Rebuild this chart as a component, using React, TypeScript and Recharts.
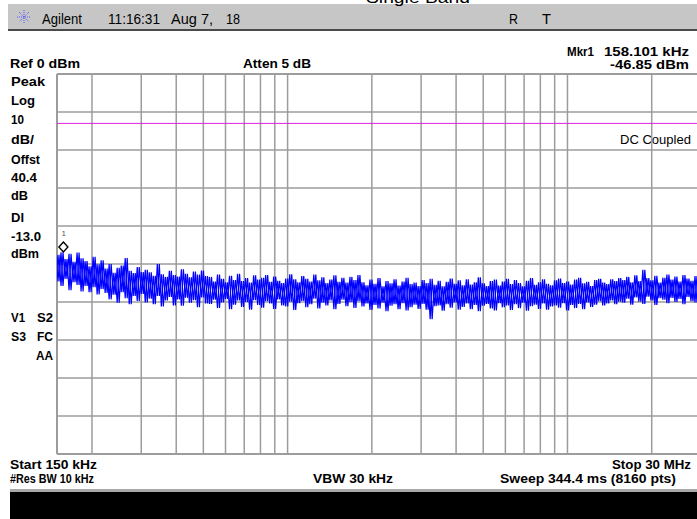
import { LineChart, Line, XAxis, YAxis, CartesianGrid, ReferenceLine, ReferenceDot } from 'recharts';

// sweep settings
const startHz = 150000;
const stopHz = 30000000;
const refLevel = 0;
const bottomLevel = -100;
const displayLine = -13;

// grid
const freqGrid = [200000, 300000, 400000, 500000, 600000, 700000, 800000, 900000, 1000000,
    2000000, 3000000, 4000000, 5000000, 6000000, 7000000, 8000000, 9000000, 10000000, 20000000];
const levelGrid = [-10, -20, -30, -40, -50, -60, -70, -80, -90];

// marker 1
const markerHz = 158101;
const markerDbm = -46.85;

// trace: upper and lower excursions of the noise, left to right
const tracePeaks = [
    -47.6, -46.9, -48.7, -47.3, -49.4, -47.0, -48.5,
    -49.2, -50.6, -48.1, -50.1, -49.0,
    -51.2, -50.0, -52.3, -51.0, -50.4, -48.4, -51.8, -52.4, -50.8, -52.1, -51.5,
    -52.2, -53.1, -50.0, -52.7, -53.4, -51.8, -52.9, -53.3, -51.4, -52.6, -53.5, -52.0, -52.8, -51.7, -53.2,
    -53.4, -54.6, -52.8, -53.9, -54.8, -53.1, -54.2, -52.6, -54.5, -53.7, -54.9, -53.0, -54.1, -53.6, -52.9,
    -54.7, -53.3, -54.4, -55.0, -53.8, -52.7, -54.0, -54.8, -53.2, -53.9, -54.6, -52.8, -54.3, -53.5, -55.0,
    -54.1, -53.0, -54.7, -53.6, -54.9, -53.4, -54.2, -52.9,
    -54.8, -55.6, -54.1, -55.2, -53.7, -55.9, -54.5, -55.1, -54.0, -55.7, -54.6, -53.6, -55.3, -54.9, -55.8,
    -54.2, -55.0, -53.9, -55.5, -54.4, -55.9, -54.7, -53.8, -55.2, -54.3, -55.6, -54.0, -55.4, -54.8, -53.5,
    -55.1, -55.8, -54.5, -54.1, -55.7, -54.6, -53.9, -55.3, -54.2, -55.0, -55.9, -54.4, -53.7, -55.5, -54.8,
    -54.0, -55.2, -55.6, -54.3, -53.8, -55.0, -54.6, -55.4, -54.1, -53.6, -55.1, -54.7, -55.8, -54.2, -53.9,
    -54.9, -55.3, -54.0, -54.5, -53.7,
    -54.2, -53.4, -54.8, -53.0, -54.5, -51.5, -53.7, -54.3, -53.1, -54.9, -53.6, -52.8, -54.1, -53.3, -54.6,
    -52.9, -53.8, -54.4, -53.2, -53.9,
];
const traceTroughs = [
    -54.6, -55.8, -53.9, -56.9, -54.8, -55.5, -57.2,
    -55.8, -57.4, -56.1, -58.0, -56.6,
    -57.6, -59.3, -58.1, -60.2, -57.4, -59.0, -60.6, -58.4, -59.7, -57.9, -60.1,
    -59.1, -60.6, -58.4, -61.2, -59.6, -58.7, -60.9, -59.3, -61.0, -58.9, -60.2, -59.5, -61.4, -58.8, -60.4,
    -60.5, -59.4, -61.6, -60.1, -59.2, -61.9, -60.7, -59.6, -61.3, -60.0, -62.0, -59.5, -60.8, -61.5, -59.8,
    -60.4, -61.8, -59.3, -60.9, -61.2, -59.9, -62.1, -60.3, -59.7, -61.4, -60.6, -59.1, -61.7, -60.2, -60.9,
    -59.6, -61.9, -60.5, -59.4, -61.1, -60.0, -61.6, -59.8,
    -61.2, -60.4, -62.1, -60.8, -61.7, -60.2, -62.4, -61.0, -60.6, -61.9, -60.3, -62.2, -61.4, -60.7, -61.8,
    -60.5, -62.0, -64.5, -61.1, -60.9, -62.3, -60.6, -61.5, -60.1, -62.0, -61.3, -60.4, -61.9, -60.8, -62.4,
    -61.0, -60.5, -61.7, -62.2, -60.3, -61.4, -60.9, -62.1, -60.6, -61.6, -60.2, -62.3, -61.1, -60.7, -61.8,
    -60.4, -62.0, -61.2, -60.9, -61.5, -60.3, -62.2, -60.8, -61.6, -60.5, -61.9, -60.1, -61.3, -60.7, -59.8,
    -60.9, -60.4, -59.6, -60.6, -59.9,
    -60.2, -59.1, -60.7, -58.8, -59.9, -60.5, -58.6, -59.6, -60.8, -59.0, -59.4, -60.3, -58.9, -60.0, -59.2,
    -60.6, -58.7, -59.8, -60.1, -59.3,
];

// the x axis runs in decades of frequency (log sweep)
const decade = (hz: number) => Math.log10(hz);
const lo = decade(startHz);
const hi = decade(stopHz);

// sweep points are evenly spaced in log frequency; two interleavings of the
// same excursions make the dense trace fill in like the analyser screen
const nPts = tracePeaks.length * 2;
const sweepPos = (n: number) => lo + (n / (nPts - 1)) * (hi - lo);
const traceRows = tracePeaks.flatMap((p, k) => [
    { f: sweepPos(2 * k), up: p, dn: traceTroughs[k] },
    { f: sweepPos(2 * k + 1), up: traceTroughs[k], dn: p },
]);

const FONT = '"Liberation Sans", Arial, Helvetica, sans-serif';
const GRID = '#9c9c9c';

type Label = { t: string; x: number; y: number; w?: number; end?: boolean; bold?: boolean; size?: number };

const labels: Label[] = [
    { t: 'Single Band', x: 366, y: 3, w: 104, size: 16 },
    { t: 'Agilent', x: 42, y: 24, w: 40, size: 15 },
    { t: '11:16:31', x: 108, y: 24, w: 52, size: 14 },
    { t: 'Aug 7,', x: 171, y: 24, w: 42, size: 14 },
    { t: '18', x: 226, y: 24, w: 14, size: 14 },
    { t: 'R', x: 509, y: 24, w: 9, size: 14 },
    { t: 'T', x: 542, y: 24, w: 9, size: 14 },
    { t: 'Mkr1', x: 567, y: 56, w: 27, bold: true },
    { t: '158.101 kHz', x: 604, y: 56, w: 85, bold: true },
    { t: '-46.85 dBm', x: 610, y: 69, w: 79, bold: true },
    { t: 'Ref 0 dBm', x: 10, y: 68, w: 70, bold: true },
    { t: 'Atten 5 dB', x: 243, y: 68, w: 68, bold: true },
    { t: 'Peak', x: 11, y: 86, w: 34, bold: true },
    { t: 'Log', x: 11, y: 105, w: 24, bold: true },
    { t: '10', x: 11, y: 124, w: 13, bold: true },
    { t: 'dB/', x: 11, y: 144, w: 23, bold: true },
    { t: 'Offst', x: 11, y: 164, w: 29, bold: true },
    { t: '40.4', x: 11, y: 182, w: 26, bold: true },
    { t: 'dB', x: 11, y: 200, w: 17, bold: true },
    { t: 'Dl', x: 11, y: 222, w: 13, bold: true },
    { t: '-13.0', x: 11, y: 241, w: 30, bold: true },
    { t: 'dBm', x: 11, y: 258, w: 28, bold: true },
    { t: 'V1', x: 11, y: 322, w: 14, bold: true },
    { t: 'S2', x: 37, y: 322, w: 16, bold: true },
    { t: 'S3', x: 11, y: 341, w: 15, bold: true },
    { t: 'FC', x: 37, y: 341, w: 16, bold: true },
    { t: 'AA', x: 36, y: 360, w: 17, bold: true },
    { t: 'DC Coupled', x: 620, y: 144, w: 71, size: 13 },
    { t: 'Start 150 kHz', x: 10, y: 469, w: 87, bold: true },
    { t: '#Res BW 10 kHz', x: 10, y: 483, w: 84, bold: true },
    { t: 'VBW 30 kHz', x: 313, y: 483, w: 80, bold: true },
    { t: 'Stop 30 MHz', x: 691, y: 469, w: 79, bold: true, end: true },
    { t: 'Sweep 344.4 ms (8160 pts)', x: 676, y: 483, w: 176, bold: true, end: true },
];

const MarkerShape = (props: any) => {
    const { cx, cy } = props;
    if (cx == null || cy == null) return null;
    const top = cy - 10;
    return (
        <g>
            <text x={cx - 2} y={cy - 16} fontSize={8} fill="#555" fontFamily={FONT}>1</text>
            <path
                d={`M${cx},${top} L${cx + 4.5},${top + 5} L${cx},${top + 10} L${cx - 4.5},${top + 5} Z`}
                fill="#fff"
                stroke="#000"
                strokeWidth={1.4}
            />
        </g>
    );
};

const Screen = () => (
    <svg width={697} height={519} style={{ position: 'absolute', left: 0, top: 0 }}>
        {/* title bar */}
        <rect x={8} y={4} width={689} height={25} fill="#c6c6c6" />
        <rect x={8} y={29} width={689} height={2} fill="#4a4a4a" />
        {/* agilent spark */}
        <g stroke="#5a5aff" strokeWidth={1} strokeDasharray="1 1">
            <line x1={17} y1={17} x2={31} y2={17} />
            <line x1={24} y1={10} x2={24} y2={24} />
            <line x1={19} y1={12} x2={29} y2={22} />
            <line x1={29} y1={12} x2={19} y2={22} />
        </g>
        {/* soft key strip */}
        <rect x={10} y={489} width={687} height={3} fill="#a8a8a8" />
        <rect x={10} y={492} width={687} height={27} fill="#000" />
        {labels.map((l) => (
            <text
                key={l.t + l.x}
                x={l.x}
                y={l.y}
                textAnchor={l.end ? 'end' : 'start'}
                textLength={l.w}
                lengthAdjust="spacingAndGlyphs"
                fontFamily={FONT}
                fontWeight={l.bold ? 700 : 400}
                fontSize={l.size ?? 12}
                fill="#000"
            >
                {l.t}
            </text>
        ))}
    </svg>
);

export default function App() {
    return (
        <div style={{ position: 'absolute', left: 0, top: 0, width: 697, height: 519, overflow: 'hidden', background: '#fff' }}>
            <Screen />
            <div style={{ position: 'absolute', left: 0, top: 0 }}>
                <LineChart
                    width={705}
                    height={519}
                    data={traceRows}
                    margin={{ top: 74, right: 4, bottom: 65, left: 57 }}
                >
                    <XAxis dataKey="f" type="number" domain={[lo, hi]} allowDataOverflow hide />
                    <YAxis type="number" domain={[bottomLevel, refLevel]} allowDataOverflow hide />
                    <CartesianGrid vertical={false} horizontalValues={levelGrid} stroke={GRID} strokeWidth={1.5} />
                    {freqGrid.map((f) => (
                        <ReferenceLine key={f} x={decade(f)} stroke={GRID} strokeWidth={1.5} zIndex={-50} />
                    ))}
                    <ReferenceLine x={lo} stroke={GRID} strokeWidth={2} />
                    <ReferenceLine y={refLevel} stroke={GRID} strokeWidth={2} />
                    <ReferenceLine y={bottomLevel} stroke={GRID} strokeWidth={2} />
                    <ReferenceLine y={displayLine} stroke="#dd22dd" strokeWidth={1} />
                    <Line dataKey="up" stroke="#0000ff" strokeWidth={1.2} dot={false} isAnimationActive={false} />
                    <Line dataKey="dn" stroke="#0000ff" strokeWidth={1.2} dot={false} isAnimationActive={false} />
                    <ReferenceDot x={decade(markerHz)} y={markerDbm} shape={MarkerShape} />
                </LineChart>
            </div>
        </div>
    );
}
